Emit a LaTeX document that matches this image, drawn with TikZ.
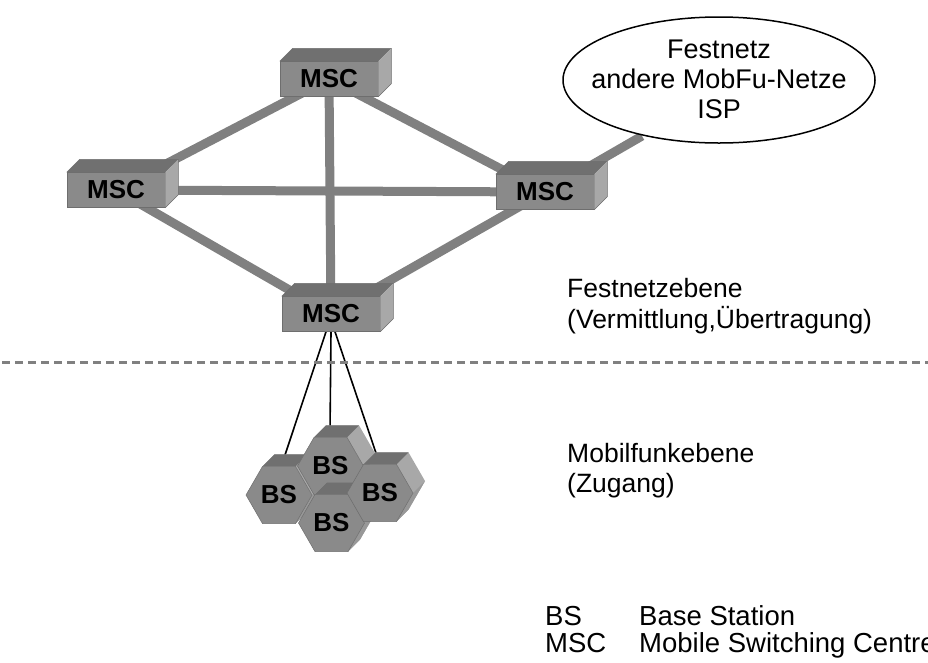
\documentclass[tikz,border=0pt]{standalone}
\usepackage{fontspec}
\setmainfont{Liberation Sans}
\usetikzlibrary{shapes.geometric}
\pgfdeclarelayer{bg}
\pgfsetlayers{bg,main}
\definecolor{frontc}{RGB}{138,138,138}
\definecolor{topc}{RGB}{112,112,112}
\definecolor{sidec}{RGB}{168,168,168}
\definecolor{sidecb}{RGB}{152,152,152}
\definecolor{edgec}{RGB}{110,110,110}
\definecolor{connc}{RGB}{128,128,128}
\tikzset{
  mscbox/.style={fill=frontc, draw=edgec, line width=0.5pt, minimum width=98pt,
    minimum height=35pt, inner sep=0pt, font=\fontsize{26}{26}\selectfont\bfseries},
  bslabel/.style={inner sep=0pt, font=\fontsize{26}{26}\selectfont\bfseries},
  connline/.style={draw=connc, line width=9pt},
  fanline/.style={draw=black, line width=1.6pt},
  divline/.style={draw=connc, line width=3pt, dash pattern=on 8pt off 5pt},
  lbl/.style={inner sep=0pt, anchor=base west, font=\fontsize{26.5}{30}\selectfont},
  legend/.style={inner sep=0pt, anchor=base west, font=\fontsize{27.5}{28}\selectfont},
  cloud/.style={draw=black, line width=1.5pt, fill=white, ellipse, inner sep=0pt,
    minimum width=312pt, minimum height=126pt},
  cloudtext/.style={inner sep=0pt, align=center, font=\fontsize{27}{30}\selectfont}
}
\newcommand\mscfaces[1]{%
  \fill[topc] (#1.north west) -- ++(13,-13) -- ([shift={(13,-13)}]#1.north east) -- (#1.north east) -- cycle;
  \fill[sidec] (#1.north east) -- ++(13,-13) -- ([shift={(13,-13)}]#1.south east) -- (#1.south east) -- cycle;
  \draw[edgec, line width=0.5pt] (#1.north west) -- ++(13,-13) -- ([shift={(13,-13)}]#1.north east) -- ([shift={(13,-13)}]#1.south east) -- (#1.south east);
}
\newcommand\bshex[2]{%
  \begin{scope}[shift={#2}]
    \fill[sidec] (-16.5,-28.6) -- (-4.5,-40.6) -- (28.5,-40.6) -- (45,-12) -- (28.5,16.6) -- (16.5,28.6) -- (33,0) -- (16.5,-28.6) -- cycle;
    \fill[sidecb] (33,0) -- (45,-12) -- (28.5,16.6) -- (16.5,28.6) -- cycle;
    \fill[topc] (-16.5,-28.6) -- (-4.5,-40.6) -- (28.5,-40.6) -- (16.5,-28.6) -- cycle;
    \filldraw[fill=frontc, draw=edgec, line width=0.5pt] (33,0) -- (16.5,-28.6) -- (-16.5,-28.6) -- (-33,0) -- (-16.5,28.6) -- (16.5,28.6) -- cycle;
  \end{scope}
  \node[bslabel] (#1) at #2 {BS};
}
\begin{document}
\begin{tikzpicture}[x=1pt,y=-1pt]
\useasboundingbox (0,0) rectangle (928,662);

% MSC boxes
\node[mscbox] (msct) at (329,79) {MSC};
\node[mscbox] (mscl) at (116,190) {MSC};
\node[mscbox] (mscr) at (545,192) {MSC};
\node[mscbox] (mscb) at (331,314) {MSC};
\mscfaces{msct}
\mscfaces{mscl}
\mscfaces{mscr}
\mscfaces{mscb}

% cloud
\node[cloud] (net) at (719,80) {};
\node[cloudtext] (nett) at (719,79) {Festnetz\\andere MobFu-Netze\\ISP};
\coordinate (netin) at (642,136);

% base stations
\coordinate (fl) at (285,455);
\coordinate (fm) at (330,432);
\coordinate (fr) at (376,453);
\bshex{bsl}{(279,495)}
\bshex{bst}{(330.5,466)}
\bshex{bsb}{(331.5,523)}
\bshex{bsr}{(380,493)}

\begin{pgfonlayer}{bg}
  \draw[connline] (msct.center) -- (mscl.center);
  \draw[connline] (msct.center) -- (mscr.center);
  \draw[connline] (msct.center) -- (mscb.center);
  \draw[connline] (mscl.center) -- (mscr.center);
  \draw[connline] (mscl.center) -- (mscb.center);
  \draw[connline] (mscr.center) -- (mscb.center);
  \draw[connline] (mscr.center) -- (netin);
  \draw[fanline] ([xshift=-5pt]mscb.south) -- (fl);
  \draw[fanline] (mscb.south) -- (fm);
  \draw[fanline] ([xshift=4pt]mscb.south) -- (fr);
\end{pgfonlayer}

% divider
\coordinate (dl) at (2,362);
\coordinate (dr) at (928,362);
\draw[divline] (dl) -- (dr);

% level labels
\node[lbl] (fe1) at (567,297) {Festnetzebene};
\node[lbl] (fe2) at (567,328) {(Vermittlung,Übertragung)};
\node[lbl] (mf1) at (567,462) {Mobilfunkebene};
\node[lbl] (mf2) at (567,492) {(Zugang)};

% legend
\node[legend] (lg1a) at (545,625) {BS};
\node[legend] (lg1b) at (639,625) {Base Station};
\node[legend] (lg2a) at (545,652) {MSC};
\node[legend] (lg2b) at (639,652) {Mobile Switching Centre};
\end{tikzpicture}
\end{document}
